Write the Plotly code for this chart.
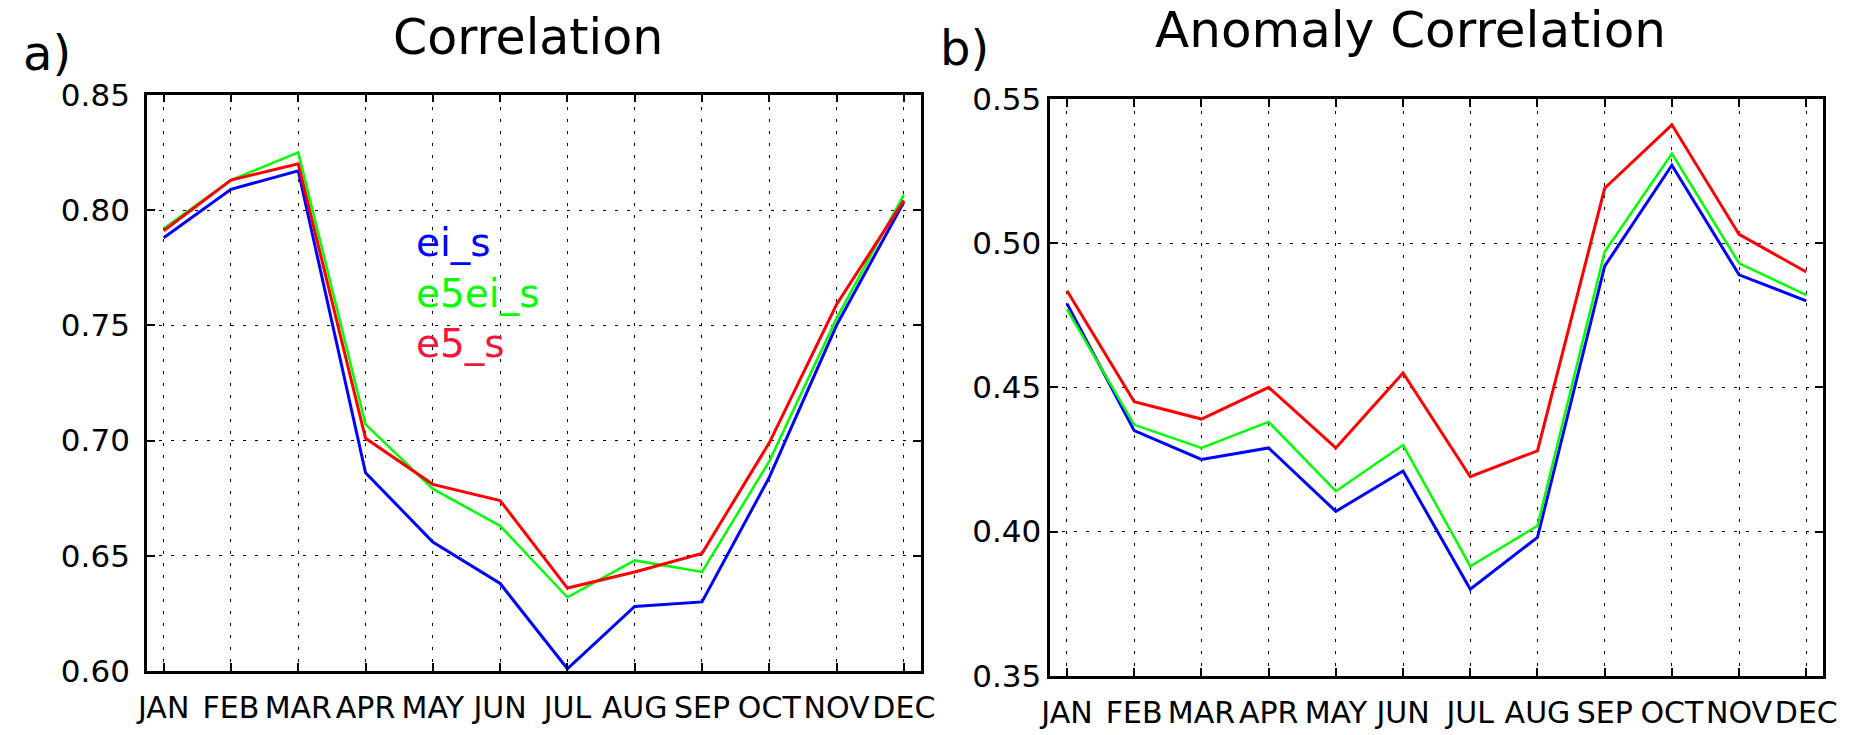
import plotly.graph_objects as go

W, H = 1867, 735

months = ["JAN", "FEB", "MAR", "APR", "MAY", "JUN", "JUL", "AUG", "SEP", "OCT", "NOV", "DEC"]

# Panel a) Correlation
corr_ei_s = [0.788, 0.809, 0.817, 0.686, 0.656, 0.638, 0.601, 0.628, 0.630, 0.684, 0.750, 0.8035]
corr_e5ei_s = [0.792, 0.813, 0.825, 0.707, 0.679, 0.663, 0.632, 0.648, 0.643, 0.691, 0.753, 0.8066]
corr_e5_s = [0.791, 0.813, 0.820, 0.701, 0.681, 0.674, 0.636, 0.643, 0.651, 0.699, 0.759, 0.8042]

# Panel b) Anomaly Correlation
ac_ei_s = [0.479, 0.435, 0.425, 0.429, 0.407, 0.421, 0.380, 0.398, 0.492, 0.527, 0.489, 0.480]
ac_e5ei_s = [0.477, 0.437, 0.429, 0.438, 0.414, 0.430, 0.388, 0.402, 0.497, 0.531, 0.493, 0.482]
ac_e5_s = [0.4835, 0.445, 0.439, 0.450, 0.429, 0.455, 0.419, 0.428, 0.519, 0.541, 0.503, 0.490]

corr_ticks = [0.60, 0.65, 0.70, 0.75, 0.80, 0.85]
ac_ticks = [0.35, 0.40, 0.45, 0.50, 0.55]

series_names = ["ei_s", "e5ei_s", "e5_s"]
colors = ["#0000ff", "#00ff00", "#ff0000"]
widths = [3, 2.5, 3]

FONT = "DejaVu Sans"

fig = go.Figure()

for name, vals, c, w in zip(series_names, [corr_ei_s, corr_e5ei_s, corr_e5_s], colors, widths):
    fig.add_trace(go.Scatter(x=months, y=vals, mode="lines", name=name,
                             line=dict(color=c, width=w), xaxis="x", yaxis="y",
                             showlegend=False))
for name, vals, c, w in zip(series_names, [ac_ei_s, ac_e5ei_s, ac_e5_s], colors, widths):
    fig.add_trace(go.Scatter(x=months, y=vals, mode="lines", name=name,
                             line=dict(color=c, width=w), xaxis="x2", yaxis="y2",
                             showlegend=False))

def px_x(p):
    return p / W

def px_y(p):
    return 1 - p / H

axis_common = dict(
    showline=True, linecolor="black", linewidth=2.5, mirror="ticks",
    ticks="inside", ticklen=8, tickwidth=1.5, tickcolor="black",
    showgrid=True, gridcolor="black", gridwidth=1.2, griddash="3px,9px",
    zeroline=False, tickfont=dict(family=FONT, size=31, color="black"),
)

xa = dict(axis_common, type="category", categoryorder="array", categoryarray=months,
          range=[-0.25, 11.25], tickmode="array", tickvals=months, ticktext=months,
          tickangle=0, ticklabelstandoff=8, tickfont=dict(family=FONT, size=30, color="black"))

fig.update_layout(
    width=W, height=H, autosize=False,
    margin=dict(l=0, r=0, t=0, b=0),
    paper_bgcolor="white", plot_bgcolor="white",
    font=dict(family=FONT, color="black"),
    xaxis=dict(xa, domain=[px_x(137.7), px_x(922)], anchor="y"),
    yaxis=dict(axis_common, domain=[px_y(686.7), px_y(80.7)], anchor="x",
               range=[0.60, 0.85], tickmode="array", tickvals=corr_ticks,
               tickformat=".2f", ticklabelstandoff=8),
    xaxis2=dict(xa, domain=[px_x(1053.3), px_x(1836.7)], anchor="y2"),
    yaxis2=dict(axis_common, domain=[px_y(691.7), px_y(85)], anchor="x2",
                range=[0.35, 0.55], tickmode="array", tickvals=ac_ticks,
                tickformat=".2f", ticklabelstandoff=0),
)

def ann(text, x, y, size, color="black", xanchor="left", align="left"):
    fig.add_annotation(text=text, x=px_x(x), y=px_y(y), xref="paper", yref="paper",
                       xanchor=xanchor, yanchor="middle", showarrow=False, align=align,
                       font=dict(family=FONT, size=size, color=color))

ann("Correlation", 524, 20, 49, xanchor="center")
ann("Anomaly Correlation", 1157, 13, 50)
ann("a)", 10, 36.5, 48)
ann("b)", 940, 32, 48)

legend_colors = ["#0000ff", "#00ff00", "#f5143c"]
legend_text = "<br>".join(
    f"<span style='color:{c}'>{n}</span>" for n, c in zip(series_names, legend_colors)
)
ann(legend_text, 408, 289, 39)

fig.write_html("out.html")
